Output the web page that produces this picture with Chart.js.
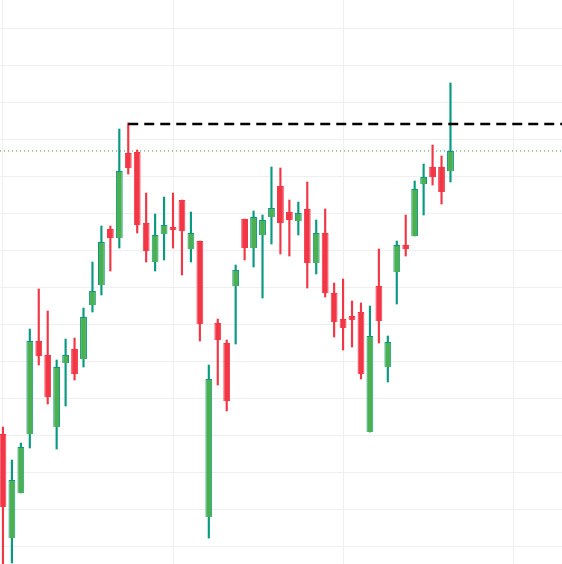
<!DOCTYPE html>
<html>
<head>
<meta charset="utf-8">
<script src="https://cdn.jsdelivr.net/npm/chart.js@4"></script>
<style>
html, body { margin: 0; padding: 0; background: #fff; }
#wrap { width: 562px; height: 564px; }
</style>
</head>
<body>
<div id="wrap"><canvas id="candles"></canvas></div>
<script>
var opens  = [130.27,102.16,114.33,130.27,155.41,151.62,132.16,149.46,153.24,150.54,165.14,170.54,185.68,183.24,206.22,206.49,187.30,176.76,184.32,185.95,193.51,180.27,182.43,107.84,160.27,154.86,170.27,188.38,180.54,184.05,188.92,197.30,190.27,187.84,191.08,176.49,184.59,168.38,161.35,162.16,163.24,130.81,170.27,148.38,174.05,181.35,183.78,197.84,202.43,202.43,201.35];
var closes = [110.54,117.84,126.76,155.41,151.35,140.27,148.38,151.62,146.49,161.89,168.92,182.16,183.24,201.35,202.16,186.76,179.73,184.05,186.76,185.41,185.14,184.59,160.00,145.14,155.68,139.19,174.59,180.54,188.92,188.11,191.35,187.30,188.11,190.00,176.49,184.59,168.38,160.54,158.92,161.08,146.49,156.76,160.81,155.14,181.35,180.27,196.49,199.73,199.73,195.68,206.76];
var highs  = [132.16,123.24,127.84,158.65,169.46,163.51,150.27,155.95,156.22,164.32,176.76,186.49,186.49,212.70,214.32,207.03,195.41,189.73,194.32,195.41,193.51,190.27,182.43,148.92,161.35,155.68,175.95,188.38,190.54,189.46,202.43,202.16,193.51,192.97,198.38,188.11,191.08,171.08,172.16,166.22,165.68,164.86,180.27,156.76,182.43,189.46,198.65,203.24,208.38,205.41,225.14];
var lows   = [93.51,95.41,114.33,126.49,148.92,138.38,126.22,137.84,144.86,148.38,163.24,167.84,174.32,180.54,200.54,184.59,176.76,174.32,177.30,180.54,173.24,176.76,155.41,102.16,143.51,136.49,154.59,177.30,175.41,167.03,181.62,178.92,178.38,184.05,169.73,173.51,167.30,156.49,152.97,153.78,145.14,130.81,154.86,144.32,165.41,178.38,183.78,189.46,197.57,192.43,198.38];
var resistanceLevel = 214.05;
var resistanceStart = 14;
var lastClose = 206.76;

var UP = '#4caf50', UP_EDGE = '#089981', DOWN = '#f23645';
var xMin = -0.33, xMax = 62.46;

var bodies = [], wicks = [], bodyFill = [], bodyEdge = [], wickColor = [];
for (var i = 0; i < opens.length; i++) {
  var up = closes[i] >= opens[i];
  var lo = Math.min(opens[i], closes[i]), hi = Math.max(opens[i], closes[i]);
  if (hi - lo < 0.8) { hi = lo + 0.8; }
  bodies.push({ x: i, y: [lo, hi] });
  wicks.push({ x: i, y: [lows[i], highs[i]] });
  bodyFill.push(up ? UP : DOWN);
  bodyEdge.push(up ? UP_EDGE : DOWN);
  wickColor.push(up ? UP_EDGE : DOWN);
}

new Chart(document.getElementById('candles').getContext('2d'), {
  type: 'bar',
  data: {
    datasets: [
      { type: 'line', data: [{x: resistanceStart, y: resistanceLevel}, {x: xMax, y: resistanceLevel}],
        borderColor: '#000', borderWidth: 2.5, borderDash: [10, 6], pointRadius: 0, order: 0 },
      { type: 'line', data: [{x: xMin, y: lastClose}, {x: xMax, y: lastClose}],
        borderColor: '#3f9a48', borderWidth: 1, borderDash: [1, 3], pointRadius: 0, order: 3 },
      { data: bodies, backgroundColor: bodyFill, borderColor: bodyEdge, borderWidth: 1,
        barPercentage: 0.76, categoryPercentage: 1, grouped: false, order: 1 },
      { data: wicks, backgroundColor: wickColor, barThickness: 1.5, grouped: false, order: 2 }
    ]
  },
  options: {
    responsive: true,
    maintainAspectRatio: false,
    animation: false,
    layout: { padding: 0 },
    plugins: { legend: { display: false }, tooltip: { enabled: false } },
    scales: {
      x: {
        type: 'linear', min: xMin, max: xMax, offset: false,
        ticks: { display: false },
        border: { display: false },
        grid: { color: '#efefef', drawTicks: false, offset: false },
        afterBuildTicks: function (s) { s.ticks = [0, 19, 38, 57].map(function (v) { return { value: v }; }); }
      },
      y: {
        min: 95.14, max: 247.57,
        ticks: { display: false },
        border: { display: false },
        grid: { color: '#efefef', drawTicks: false },
        afterBuildTicks: function (s) {
          var t = [];
          for (var v = 100; v <= 240; v += 10) t.push({ value: v });
          s.ticks = t;
        }
      }
    }
  }
});
</script>
</body>
</html>
